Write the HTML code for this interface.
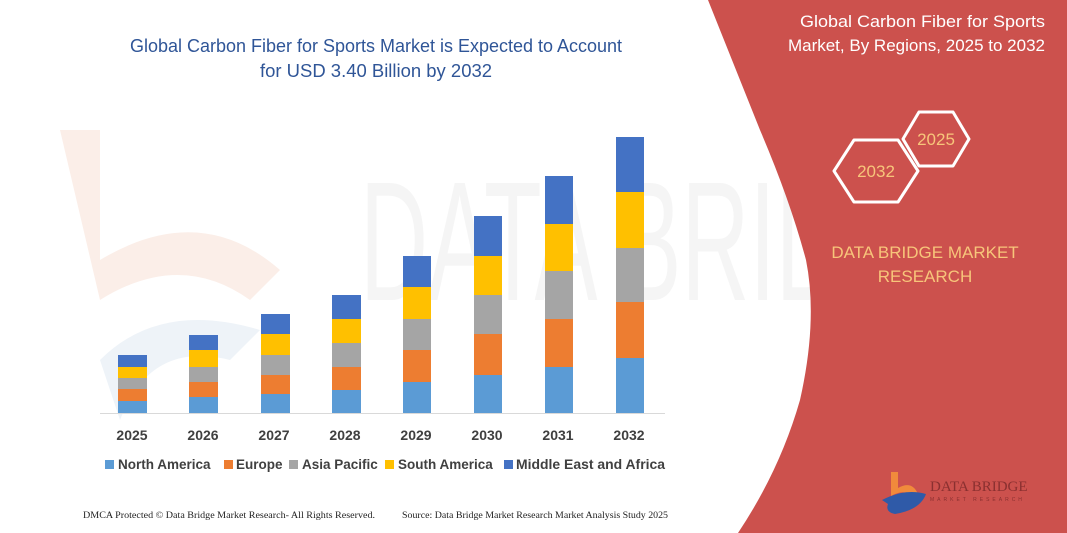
<!DOCTYPE html>
<html><head><meta charset="utf-8"><style>
body{margin:0;width:1067px;height:533px;overflow:hidden;background:#fff}
svg{display:block}
</style></head><body>
<svg width="1067" height="533" viewBox="0 0 1067 533" xmlns="http://www.w3.org/2000/svg" font-family="Liberation Sans, sans-serif">
<rect width="1067" height="533" fill="#fff"/>
<!-- faint watermark -->
<text x="360" y="300" font-size="170" fill="#f5f5f5" font-family="Liberation Sans Narrow, Liberation Sans, sans-serif" textLength="620" lengthAdjust="spacingAndGlyphs">DATA BRIDGE</text>
<path d="M60 130 L100 130 L100 260 Q200 200 280 270 L250 300 Q180 250 100 300 Z" fill="#fbeee8"/>
<path d="M100 360 Q160 300 260 330 L230 360 Q150 340 120 420 Z" fill="#eef3f8"/>
<!-- red panel -->
<path d="M708 0 L1067 0 L1067 533 L738 533 Q780 470 800 400 Q818 320 806 260 Q790 200 760 130 Z" fill="#cc514d"/>
<g font-size="17" fill="#fff" text-anchor="end">
<text x="1045" y="27" textLength="245" lengthAdjust="spacingAndGlyphs">Global Carbon Fiber for Sports</text>
<text x="1045" y="51">Market, By Regions, 2025 to 2032</text>
</g>
<g fill="none" stroke="#fff" stroke-width="3" stroke-linejoin="round">
<polygon points="903,139 919,112 953,112 969,139 953,166 919,166"/>
<polygon points="834,171 854,140 898,140 918,171 898,202 854,202"/>
</g>
<g font-size="17" fill="#f7c57a" text-anchor="middle">
<text x="936" y="145">2025</text>
<text x="876" y="177">2032</text>
<text x="925" y="258">DATA BRIDGE MARKET</text>
<text x="925" y="282">RESEARCH</text>
</g>
<!-- logo -->
<path d="M891 472 L898 472 L898 488 Q912 480 918 494 L912 497 Q905 488 891 496 Z" fill="#f08a3c"/>
<path d="M882 500 Q905 488 926 494 Q920 510 895 514 Q885 512 888 504 Z" fill="#2f5aa8"/>
<text x="930" y="491" font-size="15" fill="#8a3030" font-family="Liberation Serif, serif">DATA BRIDGE</text>
<text x="930" y="501" font-size="5" fill="#8a3030" letter-spacing="3">MARKET RESEARCH</text>
<!-- title -->
<g font-size="18.5" fill="#2f5597" text-anchor="middle">
<text x="376" y="52" textLength="492" lengthAdjust="spacingAndGlyphs">Global Carbon Fiber for Sports Market is Expected to Account</text>
<text x="376" y="77" textLength="232" lengthAdjust="spacingAndGlyphs">for USD 3.40 Billion by 2032</text>
</g>
<line x1="100" y1="413.5" x2="665" y2="413.5" stroke="#d9d9d9"/>
<g>
<rect x="118" y="401" width="29" height="12" fill="#5b9bd5"/><rect x="118" y="389" width="29" height="12" fill="#ed7d31"/><rect x="118" y="378" width="29" height="11" fill="#a5a5a5"/><rect x="118" y="367" width="29" height="11" fill="#ffc000"/><rect x="118" y="355" width="29" height="12" fill="#4472c4"/>
<rect x="189" y="397" width="29" height="16" fill="#5b9bd5"/><rect x="189" y="382" width="29" height="15" fill="#ed7d31"/><rect x="189" y="367" width="29" height="15" fill="#a5a5a5"/><rect x="189" y="350" width="29" height="17" fill="#ffc000"/><rect x="189" y="335" width="29" height="15" fill="#4472c4"/>
<rect x="261" y="394" width="29" height="19" fill="#5b9bd5"/><rect x="261" y="375" width="29" height="19" fill="#ed7d31"/><rect x="261" y="355" width="29" height="20" fill="#a5a5a5"/><rect x="261" y="334" width="29" height="21" fill="#ffc000"/><rect x="261" y="314" width="29" height="20" fill="#4472c4"/>
<rect x="332" y="390" width="29" height="23" fill="#5b9bd5"/><rect x="332" y="367" width="29" height="23" fill="#ed7d31"/><rect x="332" y="343" width="29" height="24" fill="#a5a5a5"/><rect x="332" y="319" width="29" height="24" fill="#ffc000"/><rect x="332" y="295" width="29" height="24" fill="#4472c4"/>
<rect x="403" y="382" width="28" height="31" fill="#5b9bd5"/><rect x="403" y="350" width="28" height="32" fill="#ed7d31"/><rect x="403" y="319" width="28" height="31" fill="#a5a5a5"/><rect x="403" y="287" width="28" height="32" fill="#ffc000"/><rect x="403" y="256" width="28" height="31" fill="#4472c4"/>
<rect x="474" y="375" width="28" height="38" fill="#5b9bd5"/><rect x="474" y="334" width="28" height="41" fill="#ed7d31"/><rect x="474" y="295" width="28" height="39" fill="#a5a5a5"/><rect x="474" y="256" width="28" height="39" fill="#ffc000"/><rect x="474" y="216" width="28" height="40" fill="#4472c4"/>
<rect x="545" y="367" width="28" height="46" fill="#5b9bd5"/><rect x="545" y="319" width="28" height="48" fill="#ed7d31"/><rect x="545" y="271" width="28" height="48" fill="#a5a5a5"/><rect x="545" y="224" width="28" height="47" fill="#ffc000"/><rect x="545" y="176" width="28" height="48" fill="#4472c4"/>
<rect x="616" y="358" width="28" height="55" fill="#5b9bd5"/><rect x="616" y="302" width="28" height="56" fill="#ed7d31"/><rect x="616" y="248" width="28" height="54" fill="#a5a5a5"/><rect x="616" y="192" width="28" height="56" fill="#ffc000"/><rect x="616" y="137" width="28" height="55" fill="#4472c4"/>
</g>
<g font-size="14" font-weight="bold" fill="#404040" text-anchor="middle">
<text x="132" y="440">2025</text><text x="203" y="440">2026</text><text x="274" y="440">2027</text><text x="345" y="440">2028</text><text x="416" y="440">2029</text><text x="487" y="440">2030</text><text x="558" y="440">2031</text><text x="629" y="440">2032</text>
</g>
<g font-size="13.5" font-weight="bold" fill="#404040">
<rect x="105" y="460" width="9" height="9" fill="#5b9bd5"/><text x="118" y="469">North America</text>
<rect x="224" y="460" width="9" height="9" fill="#ed7d31"/><text x="236" y="469">Europe</text>
<rect x="289" y="460" width="9" height="9" fill="#a5a5a5"/><text x="302" y="469">Asia Pacific</text>
<rect x="385" y="460" width="9" height="9" fill="#ffc000"/><text x="398" y="469">South America</text>
<rect x="504" y="460" width="9" height="9" fill="#4472c4"/><text x="516" y="469" textLength="149" lengthAdjust="spacingAndGlyphs">Middle East and Africa</text>
</g>
<g font-size="9.5" fill="#222" font-family="Liberation Serif, serif">
<text x="83" y="518" textLength="292" lengthAdjust="spacingAndGlyphs">DMCA Protected © Data Bridge Market Research-  All Rights Reserved.</text>
<text x="402" y="518" textLength="266" lengthAdjust="spacingAndGlyphs">Source: Data Bridge Market Research  Market Analysis Study 2025</text>
</g>
</svg>
</body></html>
